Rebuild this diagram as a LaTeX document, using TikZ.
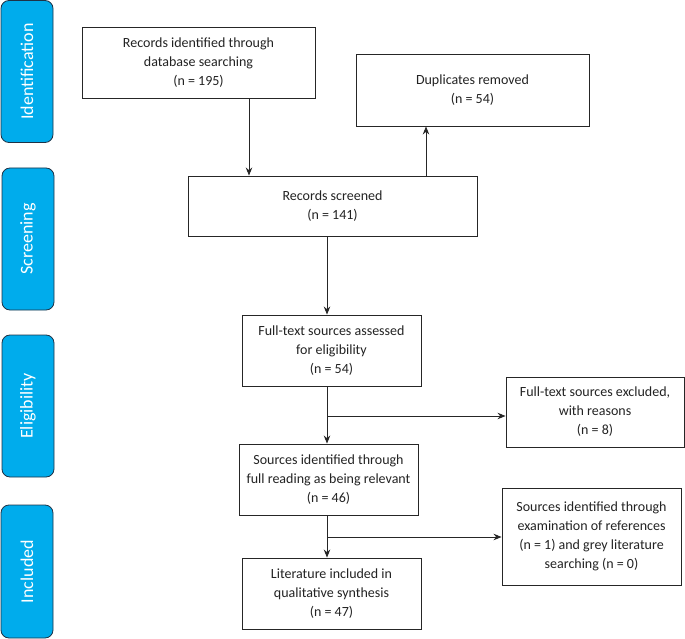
\documentclass[tikz,border=0pt]{standalone}
\usepackage{fontspec}
\setmainfont{Carlito}
\usetikzlibrary{arrows.meta}
\definecolor{phaseblue}{RGB}{0,172,236}
\definecolor{phaseedge}{RGB}{30,50,70}
\definecolor{txt}{RGB}{35,35,35}
\tikzset{
  box/.style={draw=black!85, line width=0.9pt, fill=white, align=center, text=txt,
    font=\fontsize{14}{19}\selectfont, inner sep=2pt},
  phase/.style={draw=phaseedge, line width=0.8pt, fill=phaseblue, rounded corners=8pt,
    minimum width=52pt},
  phasetext/.style={rotate=90, text=white, font=\fontsize{18}{20}\selectfont},
  arr/.style={line width=0.9pt, draw=black!85, -{Stealth[length=8pt,width=6.5pt]}},
}
\begin{document}
\begin{tikzpicture}[x=1pt,y=-1pt]
\useasboundingbox (0,0) rectangle (685,639);
% phase boxes
\node[phase, minimum height=142pt] (pid) at (27,71.5) {};
\node[phasetext] (lid) at (pid.center) {Identification};
\node[phase, minimum height=142pt] (psc) at (28,239) {};
\node[phasetext] (lsc) at (psc.center) {Screening};
\node[phase, minimum height=142pt] (pel) at (28,406) {};
\node[phasetext] (lel) at (pel.center) {Eligibility};
\node[phase, minimum height=133pt] (pin) at (27,571.5) {};
\node[phasetext] (lin) at (pin.center) {Included};
% flow boxes
\node[box, minimum width=233pt, minimum height=71pt] (rid) at (198.5,62.5)
  {Records identified through\\database searching\\(n = 195)};
\node[box, minimum width=233pt, minimum height=72pt] (dup) at (472.5,90)
  {Duplicates removed\\(n = 54)};
\node[box, minimum width=289pt, minimum height=60pt] (scr) at (332.5,206)
  {Records screened\\(n = 141)};
\node[box, minimum width=179pt, minimum height=71pt] (ft) at (331.5,350.5)
  {Full-text sources assessed\\for eligibility\\(n = 54)};
\node[box, minimum width=178pt, minimum height=70pt] (exc) at (595,412)
  {Full-text sources excluded,\\with reasons\\(n = 8)};
\node[box, minimum width=179pt, minimum height=71pt] (sir) at (328.5,479.5)
  {Sources identified through\\full reading as being relevant\\(n = 46)};
\node[box, minimum width=179pt, minimum height=97pt] (ref) at (591.5,536.5)
  {Sources identified through\\examination of references\\(n = 1) and grey literature\\searching (n = 0)};
\node[box, minimum width=179pt, minimum height=71pt] (lit) at (331.5,593.5)
  {Literature included in\\qualitative synthesis\\(n = 47)};
% connectors
\coordinate (c1) at (249,0);
\coordinate (c2) at (426,0);
\coordinate (c3) at (327,0);
\coordinate (b1) at (327,416);
\coordinate (b2) at (327,537);
\draw[arr] (rid.south -| c1) -- (scr.north -| c1);
\draw[arr] (scr.north -| c2) -- (dup.south -| c2);
\draw[arr] (scr.south -| c3) -- (ft.north -| c3);
\draw[arr] (ft.south -| c3) -- (sir.north -| c3);
\draw[arr] (b1) -- (exc.west |- b1);
\draw[arr] (sir.south -| c3) -- (lit.north -| c3);
\draw[arr] (b2) -- (ref.west |- b2);
\end{tikzpicture}
\end{document}
